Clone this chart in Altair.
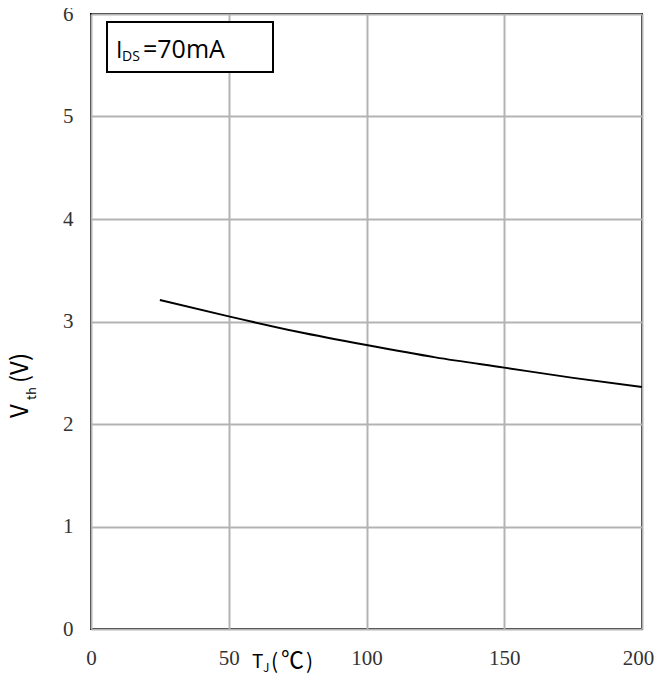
import altair as alt
import pandas as pd

# Data
tj = [25, 50, 75, 100, 125, 150, 175, 200]
vth = [3.21, 3.05, 2.90, 2.77, 2.65, 2.55, 2.45, 2.36]
x_ticks = [0, 50, 100, 150, 200]
y_ticks = [0, 1, 2, 3, 4, 5, 6]

df = pd.DataFrame({"tj": tj, "vth": vth})

W, H = 551, 615
one = alt.Data(values=[{"k": 0}])

base = alt.Chart(df)

line = base.mark_line(color="black", strokeWidth=2, interpolate="monotone", clip=False).encode(
    x=alt.X("tj:Q", scale=alt.Scale(domain=[0, 200], nice=False),
            axis=alt.Axis(values=x_ticks, title=None, labelFlush=False,
                          labelOffset={"condition": {"test": "datum.value == 200", "value": -4},
                                       "value": 0})),
    y=alt.Y("vth:Q", scale=alt.Scale(domain=[0, 6], nice=False),
            axis=alt.Axis(values=y_ticks, title=None)),
)

def txt(text, x, y, size, angle=0, align="left", baseline="alphabetic", font="Noto Sans CJK SC"):
    kw = dict(text=text, fontSize=size, font=font, align=align, baseline=baseline,
              color="black", clip=False)
    if angle:
        kw["angle"] = angle
    return alt.Chart(one).mark_text(**kw).encode(x=alt.value(x), y=alt.value(y))

box = alt.Chart(one).mark_rect(fill="white", stroke="black", strokeWidth=2).encode(
    x=alt.value(16), x2=alt.value(182), y=alt.value(8), y2=alt.value(58)
)

legend_font = "Open Sans"
leg1 = txt("I", 25, 44, 23, font=legend_font)
leg2 = txt("DS", 31, 47, 14, font=legend_font)
leg3 = txt("=70mA", 52, 44, 25, font=legend_font)

xt1 = txt("T", 161, 654, 19)
xt2 = txt("J", 172, 658, 12)
xt3 = txt("(", 180, 655, 21)
xt4 = txt("℃", 190, 654, 23)
xt5 = txt(")", 215, 655, 21)

yt1 = txt("V", -63, 404, 24, angle=270)
yt2 = txt("th", -55, 386, 13, angle=270)
yt3 = txt("(V)", -63, 369, 24, angle=270)

chart = alt.layer(line, box, leg1, leg2, leg3, xt1, xt2, xt3, xt4, xt5, yt1, yt2, yt3).properties(
    width=W, height=H,
    autosize=alt.AutoSizeParams(type="none"),
    padding={"left": 83, "top": 6, "right": 12, "bottom": 46},
).configure_view(
    stroke="black", strokeWidth=2
).configure_axis(
    domain=False, ticks=False, grid=True, gridColor="#b3b3b3", gridWidth=2,
    labelFont="Liberation Serif", labelFontSize=21, labelColor="#333333",
    labelPadding=18,
)

chart.save("out.html", embed_options={"renderer": "svg", "actions": False})
